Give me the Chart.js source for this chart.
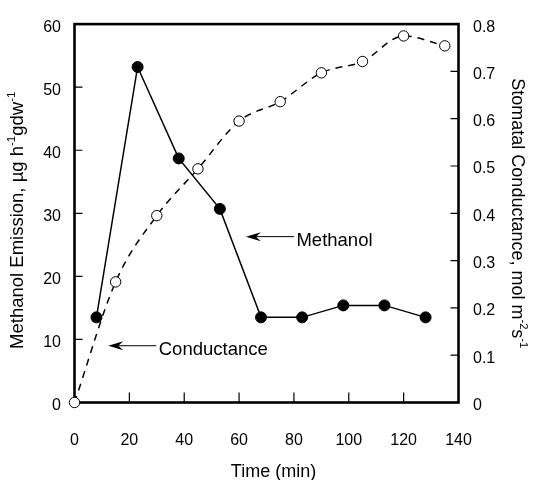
<!DOCTYPE html>
<html><head><meta charset="utf-8">
<script src="https://cdn.jsdelivr.net/npm/chart.js@4/dist/chart.umd.min.js"></script>
<style>html,body{margin:0;padding:0;background:#fff}#wrap{width:533px;height:480px;position:relative}</style>
</head><body><div id="wrap"><canvas id="c"></canvas></div>
<script>
// ---- data ----
const timeMethanol = [8, 23, 38, 53, 68, 83, 98, 113, 128];
const methanolEmission = [13.5, 53.2, 38.7, 30.7, 13.5, 13.5, 15.4, 15.4, 13.5];
const timeConductance = [0, 15, 30, 45, 60, 75, 90, 105, 120, 135];
const stomatalConductance = [0, 0.255, 0.395, 0.494, 0.595, 0.636, 0.697, 0.721, 0.775, 0.754];
const xTickValues = [0, 20, 40, 60, 80, 100, 120, 140];
const leftTickValues = [0, 10, 20, 30, 40, 50, 60];
const rightTickValues = [0, 0.1, 0.2, 0.3, 0.4, 0.5, 0.6, 0.7, 0.8];
const xTitle = 'Time (min)';
const leftTitle = [['Methanol Emission, \u00b5g h', false], ['-1', true], ['gdw', false], ['-1', true]];
const rightTitle = [['Stomatal Conductance, mol m', false], ['-2', true], ['s', false], ['-1', true]];
const annotations = [
  { text: 'Methanol', tipX: 62.5, tipY: 26.3 },
  { text: 'Conductance', tipX: 12.3, tipY: 9.0 }
];

const FONT = "'Liberation Sans', Arial, Helvetica, sans-serif";

function drawRich(ctx, parts, size) {
  const supSize = size * 0.62;
  let w = 0;
  const widths = parts.map(([t, sup]) => {
    ctx.font = (sup ? supSize : size) + 'px ' + FONT;
    const m = ctx.measureText(t).width; w += m; return m;
  });
  let x = -w / 2;
  parts.forEach(([t, sup], i) => {
    ctx.font = (sup ? supSize : size) + 'px ' + FONT;
    ctx.fillText(t, x, sup ? -size * 0.42 : 0);
    x += widths[i];
  });
}

const decor = {
  id: 'decor',
  beforeDatasetsDraw(chart) {
    const { ctx, chartArea: a, scales } = chart;
    ctx.save();
    ctx.strokeStyle = '#000';
    // inward tick marks
    ctx.lineWidth = 1.2;
    ctx.beginPath();
    leftTickValues.slice(1, -1).forEach(v => {
      const y = scales.y.getPixelForValue(v);
      ctx.moveTo(a.left, y); ctx.lineTo(a.left + 8, y);
    });
    rightTickValues.slice(1, -1).forEach(v => {
      const y = scales.y1.getPixelForValue(v);
      ctx.moveTo(a.right, y); ctx.lineTo(a.right - 8, y);
    });
    xTickValues.slice(1, -1).forEach(v => {
      const x = scales.x.getPixelForValue(v);
      ctx.moveTo(x, a.bottom); ctx.lineTo(x, a.bottom - 10);
    });
    ctx.stroke();
    // frame
    ctx.lineWidth = 2.6;
    ctx.strokeRect(a.left, a.top, a.right - a.left, a.bottom - a.top);
    ctx.restore();
  },
  afterDraw(chart) {
    const { ctx, chartArea: a, scales } = chart;
    ctx.save();
    ctx.fillStyle = '#000';
    ctx.strokeStyle = '#000';
    // axis titles
    ctx.textBaseline = 'alphabetic';
    ctx.textAlign = 'left';
    ctx.save();
    ctx.translate(23, (a.top + a.bottom) / 2 + 7);
    ctx.rotate(-Math.PI / 2);
    drawRich(ctx, leftTitle, 18.5);
    ctx.restore();
    ctx.save();
    ctx.translate(519, (a.top + a.bottom) / 2);
    ctx.rotate(Math.PI / 2);
    ctx.translate(0, 7);
    drawRich(ctx, rightTitle, 18);
    ctx.restore();
    ctx.font = '18px ' + FONT;
    ctx.textAlign = 'center';
    ctx.fillText(xTitle, 273.5, 477);
    // annotations
    annotations.forEach(an => {
      const tx = scales.x.getPixelForValue(an.tipX);
      const ty = scales.y.getPixelForValue(an.tipY);
      const len = 48;
      ctx.lineWidth = 1;
      ctx.beginPath();
      ctx.moveTo(tx + 10, ty); ctx.lineTo(tx + len, ty);
      ctx.stroke();
      ctx.beginPath();
      ctx.moveTo(tx, ty);
      ctx.lineTo(tx + 15, ty - 4.5);
      ctx.lineTo(tx + 10, ty);
      ctx.lineTo(tx + 15, ty + 4.5);
      ctx.closePath();
      ctx.fill();
      ctx.font = '18.5px ' + FONT;
      ctx.textAlign = 'left';
      ctx.textBaseline = 'alphabetic';
      ctx.fillText(an.text, tx + len + 2.5, ty + 9.5);
    });
    ctx.restore();
  }
};

const tickFont = { family: FONT, size: 16 };
new Chart(document.getElementById('c'), {
  type: 'scatter',
  data: {
    datasets: [
      {
        label: 'Methanol',
        data: timeMethanol.map((t, i) => ({ x: t, y: methanolEmission[i] })),
        yAxisID: 'y',
        showLine: true,
        borderColor: '#000',
        borderWidth: 1.5,
        pointRadius: 5.5,
        pointBackgroundColor: '#000',
        pointBorderColor: '#000',
        pointBorderWidth: 1,
        clip: false
      },
      {
        label: 'Conductance',
        data: timeConductance.map((t, i) => ({ x: t, y: stomatalConductance[i] })),
        yAxisID: 'y1',
        showLine: true,
        borderColor: '#000',
        borderWidth: 1.5,
        borderDash: [7, 6],
        cubicInterpolationMode: 'monotone',
        pointRadius: 5.2,
        pointBackgroundColor: '#fff',
        pointBorderColor: '#000',
        pointBorderWidth: 1,
        clip: false
      }
    ]
  },
  options: {
    responsive: true,
    maintainAspectRatio: false,
    animation: false,
    events: [],
    layout: { padding: { top: 17.5, left: 0, right: 0, bottom: 0 } },
    plugins: { legend: { display: false }, tooltip: { enabled: false } },
    scales: {
      x: {
        type: 'linear', position: 'bottom', min: 0, max: 140,
        afterBuildTicks: s => { s.ticks = xTickValues.map(v => ({ value: v })); },
        afterFit: s => { s.height = 77.5; },
        grid: { display: false, drawTicks: false },
        border: { display: false },
        ticks: { color: '#000', font: tickFont, padding: 28.5, maxRotation: 0 }
      },
      y: {
        type: 'linear', position: 'left', min: 0, max: 60,
        afterBuildTicks: s => { s.ticks = leftTickValues.map(v => ({ value: v })); },
        afterFit: s => { s.width = 74.5; },
        grid: { display: false, drawTicks: false },
        border: { display: false },
        ticks: { color: '#000', font: tickFont, padding: 13.5, labelOffset: 3 }
      },
      y1: {
        type: 'linear', position: 'right', min: 0, max: 0.8,
        afterBuildTicks: s => { s.ticks = rightTickValues.map(v => ({ value: v })); },
        afterFit: s => { s.width = 74.5; },
        grid: { display: false, drawTicks: false },
        border: { display: false },
        ticks: { color: '#000', font: tickFont, padding: 14.5, labelOffset: 3,
          callback: v => (v === 0 ? '0' : v.toFixed(1)) }
      }
    }
  },
  plugins: [decor]
});
</script>
</body></html>
